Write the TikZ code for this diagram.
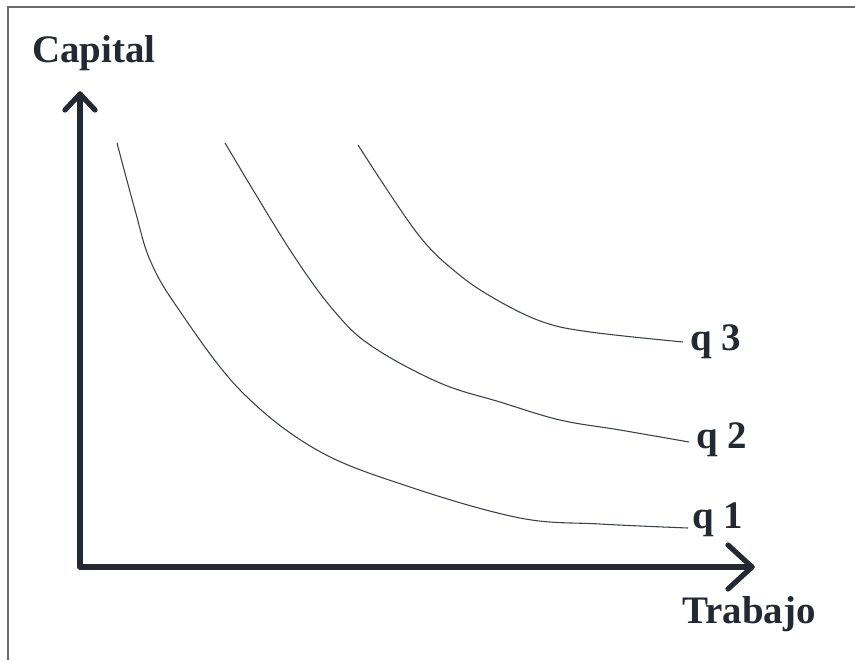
\documentclass[tikz,border=0pt]{standalone}
\usepackage{fontspec}
\setmainfont{Liberation Serif}
\usetikzlibrary{calc}
\begin{document}
\begin{tikzpicture}[x=0.75pt,y=-0.75pt,
  axis/.style={line width=3.9pt, draw=axiscol, line cap=round, line join=round},
  curve/.style={line width=0.8pt, draw=curvecol, smooth, tension=0.6},
  lbl/.style={font=\fontsize{29.2}{34}\selectfont\bfseries, text=axiscol, inner sep=0pt, anchor=base west},
  frame/.style={line width=1.3pt, draw=framecol}]
\definecolor{axiscol}{HTML}{222932}
\definecolor{curvecol}{HTML}{3A4048}
\definecolor{framecol}{HTML}{6A6A6A}
\useasboundingbox (0,0) rectangle (855,660);
% frame
\coordinate (FB) at (8,660);
\coordinate (FC) at (8,7);
\coordinate (FR) at (855,7);
\draw[frame] (FB) -- (FC) -- (FR);
% axes
\coordinate (O) at (80,567);
\coordinate (Y) at (80,94);
\coordinate (X) at (752,567);
\draw[axis] (O) -- (Y);
\draw[axis] (O) -- (X);
\draw[axis] ($(Y)+(-15,16)$) -- (Y) -- ($(Y)+(15,16)$);
\draw[axis] ($(X)+(-24,-22)$) -- (X) -- ($(X)+(-24,22)$);
% curves
\draw[curve] plot coordinates {(117,143) (135,210) (150,260) (177,307) (240,390) (317,450) (410,487) (520,518) (600,524) (688,528)};
\draw[curve] plot coordinates {(225,143) (290,250) (335,312) (373,347) (440,383) (500,402) (560,420) (620,430) (689,442)};
\draw[curve] plot coordinates {(358,145) (417,233) (457,273) (497,300) (543,322) (590,332) (683,342)};
% labels
\node[lbl] (cap) at (32,62) {Capital};
\node[lbl] (tra) at (682,623) {Trabajo};
\node[lbl] (q3) at (690,350) {q 3};
\node[lbl] (q2) at (696,448) {q 2};
\node[lbl] (q1) at (692,528) {q 1};
\end{tikzpicture}
\end{document}
